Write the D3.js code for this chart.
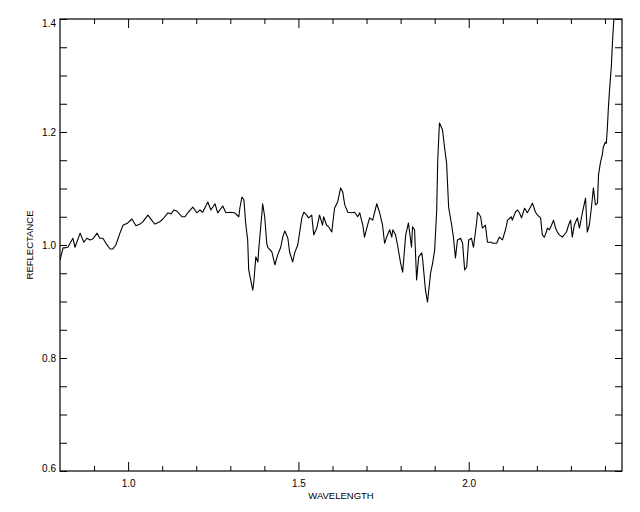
<!DOCTYPE html>
<html>
<head>
<meta charset="utf-8">
<script src="https://cdn.jsdelivr.net/npm/d3@7/dist/d3.min.js"></script>
<style>
  body { margin: 0; background: #fff; }
  svg { display: block; }
  text { font-family: "Liberation Sans", Arial, sans-serif; fill: #000; }
</style>
</head>
<body>
<svg id="chart" width="640" height="512"></svg>
<script>
// ---- data ----
const wavelength = [
  0.800,0.809,0.815,0.823,0.838,0.844,0.859,0.870,0.879,0.888,0.897,0.909,0.917,0.926,0.935,0.947,0.955,0.964,0.976,0.985,
  0.999,1.011,1.023,1.035,1.043,1.058,1.073,1.079,1.093,1.102,1.117,1.126,1.134,1.143,
  1.146,1.158,1.167,1.175,1.190,1.202,1.211,1.219,1.234,1.243,1.255,1.263,1.278,1.287,1.299,1.313,1.325,1.328,1.334,1.340,
  1.345,1.351,1.354,1.360,1.366,1.369,1.375,1.381,1.384,1.392,1.395,1.401,1.407,1.410,1.422,1.431,1.439,1.448,1.454,1.460,
  1.469,1.474,1.483,1.489,1.498,1.510,1.516,1.524,1.530,1.539,1.545,1.554,1.562,1.571,1.574,1.583,1.589,1.598,1.606,1.615,
  1.624,1.630,1.636,1.645,1.656,1.665,1.674,1.680,1.689,1.694,1.703,1.709,1.718,1.730,1.738,1.747,1.753,1.759,1.768,1.774,
  1.777,1.785,1.791,1.800,1.806,1.809,1.815,1.823,1.832,1.835,1.841,1.847,1.853,1.862,1.865,1.873,1.879,1.888,1.894,1.900,
  1.906,1.909,1.914,1.923,1.929,1.935,1.941,1.950,1.955,1.961,1.967,1.976,1.982,1.988,1.994,2.000,2.008,2.014,2.023,2.026,
  2.035,2.040,2.049,2.055,2.067,2.070,2.082,2.090,2.099,2.108,2.114,2.125,2.128,2.137,2.143,2.149,
  2.155,2.164,2.172,2.181,2.187,2.196,2.202,2.211,2.216,2.222,2.228,2.231,2.237,2.243,2.249,2.255,2.260,2.266,2.275,2.287,
  2.293,2.299,2.304,2.310,2.319,2.325,2.334,2.343,2.348,2.354,2.360,2.366,2.372,2.378,2.381,2.387,2.392,2.395,2.401,2.404,
  2.407,2.410,2.413,2.419,2.422,2.425,2.428
];
const reflectance = [
  0.973,0.995,0.995,0.996,1.012,0.996,1.021,1.005,1.012,1.009,1.011,1.021,1.012,1.012,1.003,0.993,0.993,1.000,1.021,1.035,
  1.039,1.046,1.034,1.037,1.041,1.053,1.041,1.037,1.041,1.046,1.057,1.055,1.062,1.060,
  1.058,1.050,1.050,1.057,1.067,1.057,1.062,1.058,1.076,1.062,1.073,1.057,1.069,1.057,1.058,1.057,1.050,1.065,1.085,1.080,
  1.039,1.009,0.956,0.938,0.920,0.934,0.979,0.970,0.996,1.050,1.073,1.050,1.003,0.996,0.988,0.965,0.982,0.996,1.014,1.025,
  1.012,0.988,0.970,0.986,1.000,1.048,1.058,1.053,1.048,1.053,1.018,1.030,1.053,1.035,1.050,1.035,1.032,1.023,1.065,1.076,
  1.101,1.094,1.071,1.058,1.057,1.058,1.050,1.057,1.035,1.014,1.035,1.048,1.044,1.073,1.058,1.035,1.003,1.014,1.027,1.014,
  1.027,1.018,1.000,0.968,0.952,0.973,1.018,1.039,0.996,1.032,1.027,0.938,0.979,0.986,0.973,0.920,0.899,0.950,0.968,0.991,
  1.062,1.150,1.216,1.204,1.173,1.145,1.067,1.035,1.014,0.977,1.009,1.012,1.003,0.956,0.961,1.009,1.012,0.996,1.039,1.058,
  1.050,1.030,1.035,1.005,1.005,1.003,1.003,1.014,1.009,1.027,1.044,1.050,1.044,1.058,1.062,1.057,
  1.048,1.065,1.057,1.067,1.074,1.058,1.053,1.048,1.018,1.014,1.023,1.030,1.027,1.035,1.044,1.030,1.023,1.018,1.014,1.023,
  1.035,1.044,1.014,1.035,1.048,1.030,1.058,1.083,1.023,1.035,1.065,1.101,1.071,1.074,1.124,1.147,1.159,1.173,1.182,1.180,
  1.207,1.242,1.271,1.319,1.359,1.389,1.416
];
const xDomain = [0.8, 2.45];
const yDomain = [0.6, 1.4];
const xMajorTicks = [1.0, 1.5, 2.0];
const xTickLabels = ["1.0", "1.5", "2.0"];
const xMinorTicks = [0.9, 1.1, 1.2, 1.3, 1.4, 1.6, 1.7, 1.8, 1.9, 2.1, 2.2, 2.3, 2.4];
const yMajorTicks = [0.6, 0.8, 1.0, 1.2, 1.4];
const yTickLabels = ["0.6", "0.8", "1.0", "1.2", "1.4"];
const yMinorTicks = [0.65, 0.7, 0.75, 0.85, 0.9, 0.95, 1.05, 1.1, 1.15, 1.25, 1.3, 1.35];
const xTitle = "WAVELENGTH";
const yTitle = "REFLECTANCE";

// ---- layout ----
const L = 60, R = 622, T = 19, B = 471;
const svg = d3.select("#chart");
const x = d3.scaleLinear().domain(xDomain).range([L, R]);
const y = d3.scaleLinear().domain(yDomain).range([B, T]);

svg.append("defs").append("clipPath").attr("id", "clip")
  .append("rect").attr("x", L).attr("y", T).attr("width", R - L).attr("height", B - T);

// curve
const pts = wavelength.map((w, i) => [w, reflectance[i]]);
svg.append("path")
  .datum(pts)
  .attr("clip-path", "url(#clip)")
  .attr("fill", "none")
  .attr("stroke", "#000")
  .attr("stroke-width", 1.1)
  .attr("stroke-linejoin", "round")
  .attr("d", d3.line().x(d => x(d[0])).y(d => y(d[1])));

function styleAxis(g) {
  g.select(".domain").remove();
  g.selectAll("line").attr("stroke", "#000").attr("stroke-width", 1);
  g.selectAll("text").attr("font-size", 10).attr("font-family", "Liberation Sans, Arial, sans-serif");
}

// bottom axis (labelled) + minor
svg.append("g").attr("transform", `translate(0,${B})`)
  .call(d3.axisBottom(x).tickValues(xMajorTicks).tickSize(-9).tickPadding(9)
    .tickFormat((d, i) => xTickLabels[i]))
  .call(styleAxis);
svg.append("g").attr("transform", `translate(0,${B})`)
  .call(d3.axisBottom(x).tickValues(xMinorTicks).tickSize(-5).tickFormat(""))
  .call(styleAxis);
// top axis
svg.append("g").attr("transform", `translate(0,${T})`)
  .call(d3.axisTop(x).tickValues(xMajorTicks).tickSize(-9).tickFormat(""))
  .call(styleAxis);
svg.append("g").attr("transform", `translate(0,${T})`)
  .call(d3.axisTop(x).tickValues(xMinorTicks).tickSize(-5).tickFormat(""))
  .call(styleAxis);

// left axis (labelled)
const yl = svg.append("g").attr("transform", `translate(${L},0)`)
  .call(d3.axisLeft(y).tickValues(yMajorTicks).tickSize(-7).tickPadding(4)
    .tickFormat((d, i) => yTickLabels[i]))
  .call(styleAxis);
yl.selectAll(".tick text").attr("dy", (d) => d === 1.4 ? "0.75em" : (d === 0.6 ? "0.05em" : "0.35em"));
svg.append("g").attr("transform", `translate(${L},0)`)
  .call(d3.axisLeft(y).tickValues(yMinorTicks).tickSize(-7).tickFormat(""))
  .call(styleAxis);
// right axis
svg.append("g").attr("transform", `translate(${R},0)`)
  .call(d3.axisRight(y).tickValues(yMajorTicks).tickSize(-7).tickFormat(""))
  .call(styleAxis);
svg.append("g").attr("transform", `translate(${R},0)`)
  .call(d3.axisRight(y).tickValues(yMinorTicks).tickSize(-7).tickFormat(""))
  .call(styleAxis);

// frame
svg.append("rect").attr("x", L).attr("y", T).attr("width", R - L).attr("height", B - T)
  .attr("fill", "none").attr("stroke", "#000").attr("stroke-width", 1.2);

// titles
svg.append("text").attr("x", (L + R) / 2).attr("y", 499)
  .attr("text-anchor", "middle").attr("font-size", 9.5).text(xTitle);
svg.append("text").attr("transform", `translate(33,${(T + B) / 2}) rotate(-90)`)
  .attr("text-anchor", "middle").attr("font-size", 9.5).text(yTitle);
</script>
</body>
</html>
